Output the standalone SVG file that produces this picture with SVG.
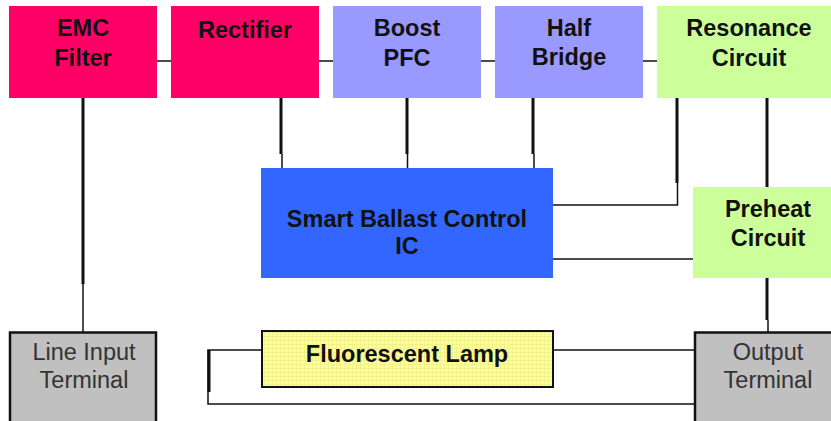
<svg xmlns="http://www.w3.org/2000/svg" width="831" height="421" viewBox="0 0 831 421">
<style>
text{font-family:"Liberation Sans",Arial,sans-serif;font-size:23.5px;text-anchor:middle}
.b{font-weight:bold;fill:#111}
.r{fill:#333}
.pink{fill:#FF0066}
.lav{fill:#9999FF}
.grn{fill:#CCFF99}
.blue{fill:#3366FF}
.term{fill:#C0C0C0;stroke:#111;stroke-width:2.5}
.lamp{fill:url(#grid);stroke:#111;stroke-width:2}
.thin{stroke:#111;stroke-width:1.5;fill:none}
.thick{stroke:#111;stroke-width:3;fill:none}
</style>
<defs>
<pattern id="grid" width="4" height="4" patternUnits="userSpaceOnUse">
<rect width="4" height="4" fill="#FFFF99"/>
<path d="M0 0.5H4M0.5 0V4" stroke="#F2F28C" stroke-width="1"/>
</pattern>
</defs>
<rect width="831" height="421" fill="#fff"/>
<g id="connectors">
<path class="thin" d="M153 61H175M315 61H337M477 61H498M639 61H661"/>
<path class="thick" d="M83 98V284"/>
<path class="thin" d="M83 284V332"/>
<path class="thick" d="M281 98V154M407 98V154M533 98V154"/>
<path class="thin" d="M282 154V168M407.5 154V168M534 154V168"/>
<path class="thick" d="M677 98V183"/>
<path class="thin" d="M677.5 183V205H549"/>
<path class="thick" d="M767 98V187"/>
<path class="thin" d="M549 259H697"/>
<path class="thick" d="M767 278V320"/>
<path class="thin" d="M768 320V332"/>
<path class="thin" d="M261 350H208V404H694M553 350H694"/>
<path class="thick" d="M209 350V392"/>
</g>
<g id="emc"><rect class="pink" x="9" y="6" width="148" height="92"/><text class="b" x="83" y="36">EMC</text><text class="b" x="83" y="66">Filter</text></g>
<g id="rectifier"><rect class="pink" x="171" y="6" width="148" height="92"/><text class="b" x="245" y="38">Rectifier</text></g>
<g id="boost"><rect class="lav" x="333" y="6" width="148" height="92"/><text class="b" x="407" y="36">Boost</text><text class="b" x="407" y="66">PFC</text></g>
<g id="halfbridge"><rect class="lav" x="495" y="6" width="148" height="92"/><text class="b" x="569" y="36">Half</text><text class="b" x="569" y="65">Bridge</text></g>
<g id="resonance"><rect class="grn" x="657" y="6" width="184" height="92"/><text class="b" x="749" y="36">Resonance</text><text class="b" x="749" y="66">Circuit</text></g>
<g id="ic"><rect class="blue" x="261" y="168" width="292" height="110"/><text class="b" x="407" y="227">Smart Ballast Control</text><text class="b" x="407" y="254">IC</text></g>
<g id="preheat"><rect class="grn" x="693" y="187" width="148" height="91"/><text class="b" x="768" y="217">Preheat</text><text class="b" x="768" y="246">Circuit</text></g>
<g id="lineinput"><rect class="term" x="10" y="332.5" width="146" height="100"/><text class="r" x="84" y="360">Line Input</text><text class="r" x="84" y="388">Terminal</text></g>
<g id="lamp"><rect class="lamp" x="262" y="331" width="291" height="56"/><text class="b" x="407" y="362">Fluorescent Lamp</text></g>
<g id="output"><rect class="term" x="695" y="332.5" width="146" height="100"/><text class="r" x="768" y="360">Output</text><text class="r" x="768" y="388">Terminal</text></g>
</svg>
